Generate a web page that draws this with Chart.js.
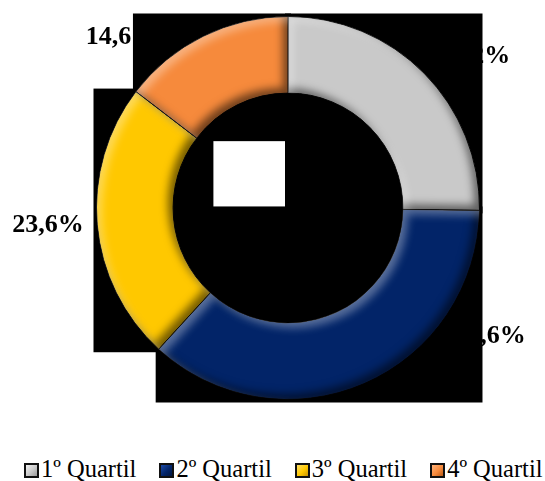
<!DOCTYPE html>
<html>
<head>
<meta charset="utf-8">
<script src="https://cdn.jsdelivr.net/npm/chart.js@4.4.1/dist/chart.umd.min.js"></script>
<style>
  body { margin: 0; background: #fff; }
  .wrap { position: relative; width: 545px; height: 481px; overflow: hidden; }
  .legend { position: absolute; left: 24px; top: 456px; display: flex; gap: 23px;
            font-family: 'Liberation Serif', 'Times New Roman', serif; font-size: 24.5px; line-height: 26px; color: #000; }
  .legend .item { display: flex; align-items: center; gap: 2px; white-space: nowrap; }
  .legend .box { width: 11px; height: 11px; border: 2px solid #111; margin-top: 2px; }
</style>
</head>
<body>
<div class="wrap">
  <canvas id="quartis" width="545" height="440"></canvas>
  <div class="legend" id="legend"></div>
</div>
<script>
const categories = ['1º Quartil', '2º Quartil', '3º Quartil', '4º Quartil'];
const shares = [25.2, 36.6, 23.6, 14.6];
const colors = ['#C9C9C9', '#022468', '#FFC800', '#F68A3C'];
const swatches = [
  ['#f2f2f2', '#9a9a9a'],
  ['#1b4aa8', '#011640'],
  ['#ffe066', '#c99400'],
  ['#ffb27a', '#b95a18']
];

const pct = v => v.toFixed(1).replace('.', ',') + '%';

function sectorProps(arc) {
  return arc.getProps(['x', 'y', 'startAngle', 'endAngle', 'innerRadius', 'outerRadius'], true);
}

function sectorPath(ctx, p) {
  ctx.moveTo(p.x + Math.cos(p.startAngle) * p.outerRadius, p.y + Math.sin(p.startAngle) * p.outerRadius);
  ctx.arc(p.x, p.y, p.outerRadius, p.startAngle, p.endAngle);
  ctx.arc(p.x, p.y, p.innerRadius, p.endAngle, p.startAngle, true);
  ctx.closePath();
}

// black backing box around each ring segment (it also hides part of the labels)
function sectorBox(p, pad) {
  const pts = [];
  [p.startAngle, p.endAngle].forEach(a => {
    pts.push([p.x + Math.cos(a) * p.outerRadius, p.y + Math.sin(a) * p.outerRadius]);
    pts.push([p.x + Math.cos(a) * p.innerRadius, p.y + Math.sin(a) * p.innerRadius]);
  });
  const q = Math.PI / 2;
  for (let k = Math.ceil(p.startAngle / q); k * q <= p.endAngle; k++) {
    pts.push([p.x + Math.cos(k * q) * p.outerRadius, p.y + Math.sin(k * q) * p.outerRadius]);
  }
  const xs = pts.map(v => v[0]), ys = pts.map(v => v[1]);
  const x0 = Math.min(...xs) - pad, y0 = Math.min(...ys) - pad;
  return [x0, y0, Math.max(...xs) + pad - x0, Math.max(...ys) + pad - y0];
}

const ringBackdrop = {
  id: 'ringBackdrop',
  beforeDatasetsDraw(chart, args, opts) {
    const ctx = chart.ctx;
    const arcs = chart.getDatasetMeta(0).data;
    ctx.save();
    ctx.font = 'bold 26px "Liberation Serif", "Times New Roman", serif';
    ctx.fillStyle = '#000';
    ctx.textAlign = 'center';
    ctx.textBaseline = 'alphabetic';
    arcs.forEach((arc, i) => {
      const p = sectorProps(arc);
      const [dx, dy] = opts.labelOffsets[i];
      ctx.fillText(pct(shares[i]), p.x + dx, p.y + dy);
    });
    ctx.fillStyle = '#000';
    arcs.forEach(arc => {
      const [x, y, w, h] = sectorBox(sectorProps(arc), 3);
      ctx.fillRect(x, y, w, h);
    });
    ctx.restore();
  },
  afterDatasetsDraw(chart) {
    const ctx = chart.ctx;
    chart.getDatasetMeta(0).data.forEach(arc => {
      const p = sectorProps(arc);
      ctx.save();
      ctx.beginPath();
      sectorPath(ctx, p);
      ctx.clip();
      [['rgba(0,0,0,0.55)', -5, -5], ['rgba(255,255,255,0.35)', 5, 5]].forEach(([c, ox, oy]) => {
        ctx.save();
        ctx.shadowColor = c;
        ctx.shadowBlur = 9;
        ctx.shadowOffsetX = ox;
        ctx.shadowOffsetY = oy;
        ctx.fillStyle = '#000';
        ctx.beginPath();
        ctx.rect(-2000, -2000, 5000, 5000);
        sectorPath(ctx, p);
        ctx.fill('evenodd');
        ctx.restore();
      });
      ctx.restore();
    });
  }
};

new Chart(document.getElementById('quartis'), {
  type: 'doughnut',
  data: {
    labels: categories,
    datasets: [{
      data: shares,
      backgroundColor: colors,
      borderColor: '#000',
      borderWidth: 1
    }]
  },
  options: {
    responsive: false,
    animation: false,
    cutout: '60%',
    layout: { padding: { top: 16, bottom: 40, left: 31, right: 0 } },
    plugins: {
      legend: { display: false },
      tooltip: { enabled: false },
      ringBackdrop: {
        labelOffsets: [[186.5, -145], [202, 135], [-240, 24], [-166.5, -164]]
      }
    }
  },
  plugins: [ringBackdrop]
});

document.getElementById('legend').innerHTML = categories.map((c, i) => `
  <div class="item">
    <span class="box" style="background:linear-gradient(135deg, ${swatches[i][0]}, ${colors[i]} 55%, ${swatches[i][1]})"></span>
    <span>${c}</span>
  </div>`).join('');
</script>
</body>
</html>
